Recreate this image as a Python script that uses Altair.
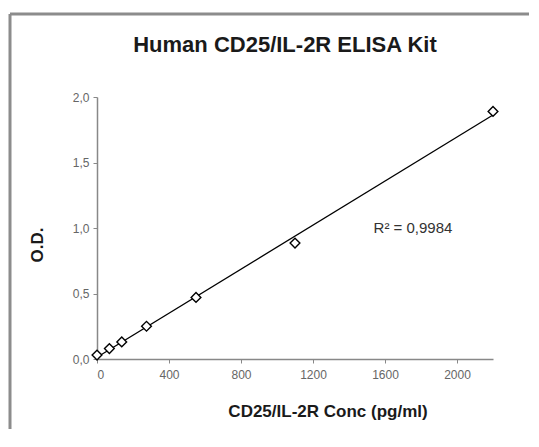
import altair as alt
import pandas as pd

# Data
conc = [0, 68.75, 137.5, 275, 550, 1100, 2200]
od = [0.03, 0.08, 0.13, 0.25, 0.47, 0.885, 1.89]
x_ticks = [0, 400, 800, 1200, 1600, 2000]
y_ticks = [0.0, 0.5, 1.0, 1.5, 2.0]
title_text = "Human CD25/IL-2R ELISA Kit"
x_title = "CD25/IL-2R Conc (pg/ml)"
y_title = "O.D."
r2_text = "R² = 0,9984"

df = pd.DataFrame({"conc": conc, "od": od})
one = pd.DataFrame({"a": [0]})

FONT = "Liberation Sans"
W, H = 396, 262

xs = alt.Scale(domain=[0, 2200], nice=False, zero=True)
ys = alt.Scale(domain=[0, 2], nice=False)

xaxis = alt.Axis(values=x_ticks, title=None, grid=False, domainColor="#888888",
                 domainWidth=1.5, tickColor="#888888", tickSize=4, labelFont=FONT,
                 labelFontSize=12, labelColor="#666666", labelPadding=6, format="d")
yaxis = alt.Axis(values=y_ticks, title=None, grid=False, domainColor="#888888",
                 domainWidth=1.5, tickColor="#888888", tickSize=4, labelFont=FONT,
                 labelFontSize=12, labelColor="#666666", labelPadding=4,
                 labelExpr="replace(format(datum.value, '.1f'), '.', ',')")

base = alt.Chart(df)

line = base.transform_regression("conc", "od", extent=[0, 2200]).mark_line(
    color="black", strokeWidth=1.3
).encode(
    x=alt.X("conc:Q", scale=xs, axis=xaxis),
    y=alt.Y("od:Q", scale=ys, axis=yaxis),
)

pts = base.mark_point(shape="diamond", size=95, filled=True, fill="white",
                      stroke="black", strokeWidth=1.4, opacity=1).encode(
    x=alt.X("conc:Q", scale=xs),
    y=alt.Y("od:Q", scale=ys),
)

def txt(text, x, y, size, bold=True, angle=0):
    return alt.Chart(one).mark_text(
        font=FONT, fontSize=size, fontWeight="bold" if bold else "normal",
        color="#1a1a1a" if bold else "#333333", align="center", baseline="middle",
        angle=angle
    ).encode(x=alt.value(x), y=alt.value(y), text=alt.value(text))

t_title = txt(title_text, 188, -52, 22)
t_x = txt(x_title, 231, 315, 17)
t_y = txt(y_title, -59, 148, 17, angle=270)
t_r2 = txt(r2_text, 316, 131, 15, bold=False)

border_top = alt.Chart(one).mark_rule(color="#8c8c8c", strokeWidth=3).encode(
    x=alt.value(-87), x2=alt.value(440), y=alt.value(-83))
border_left = alt.Chart(one).mark_rule(color="#8c8c8c", strokeWidth=3).encode(
    x=alt.value(-87), y=alt.value(-83), y2=alt.value(360))

chart = alt.layer(line, pts, t_title, t_x, t_y, t_r2, border_top, border_left).properties(
    width=W, height=H,
    autosize=alt.AutoSizeParams(type="none"),
    padding={"left": 89, "top": 89, "right": 36, "bottom": 70},
    background="white",
).configure_view(stroke=None)

chart.save("out.html", embed_options={"renderer": "svg", "actions": False})
